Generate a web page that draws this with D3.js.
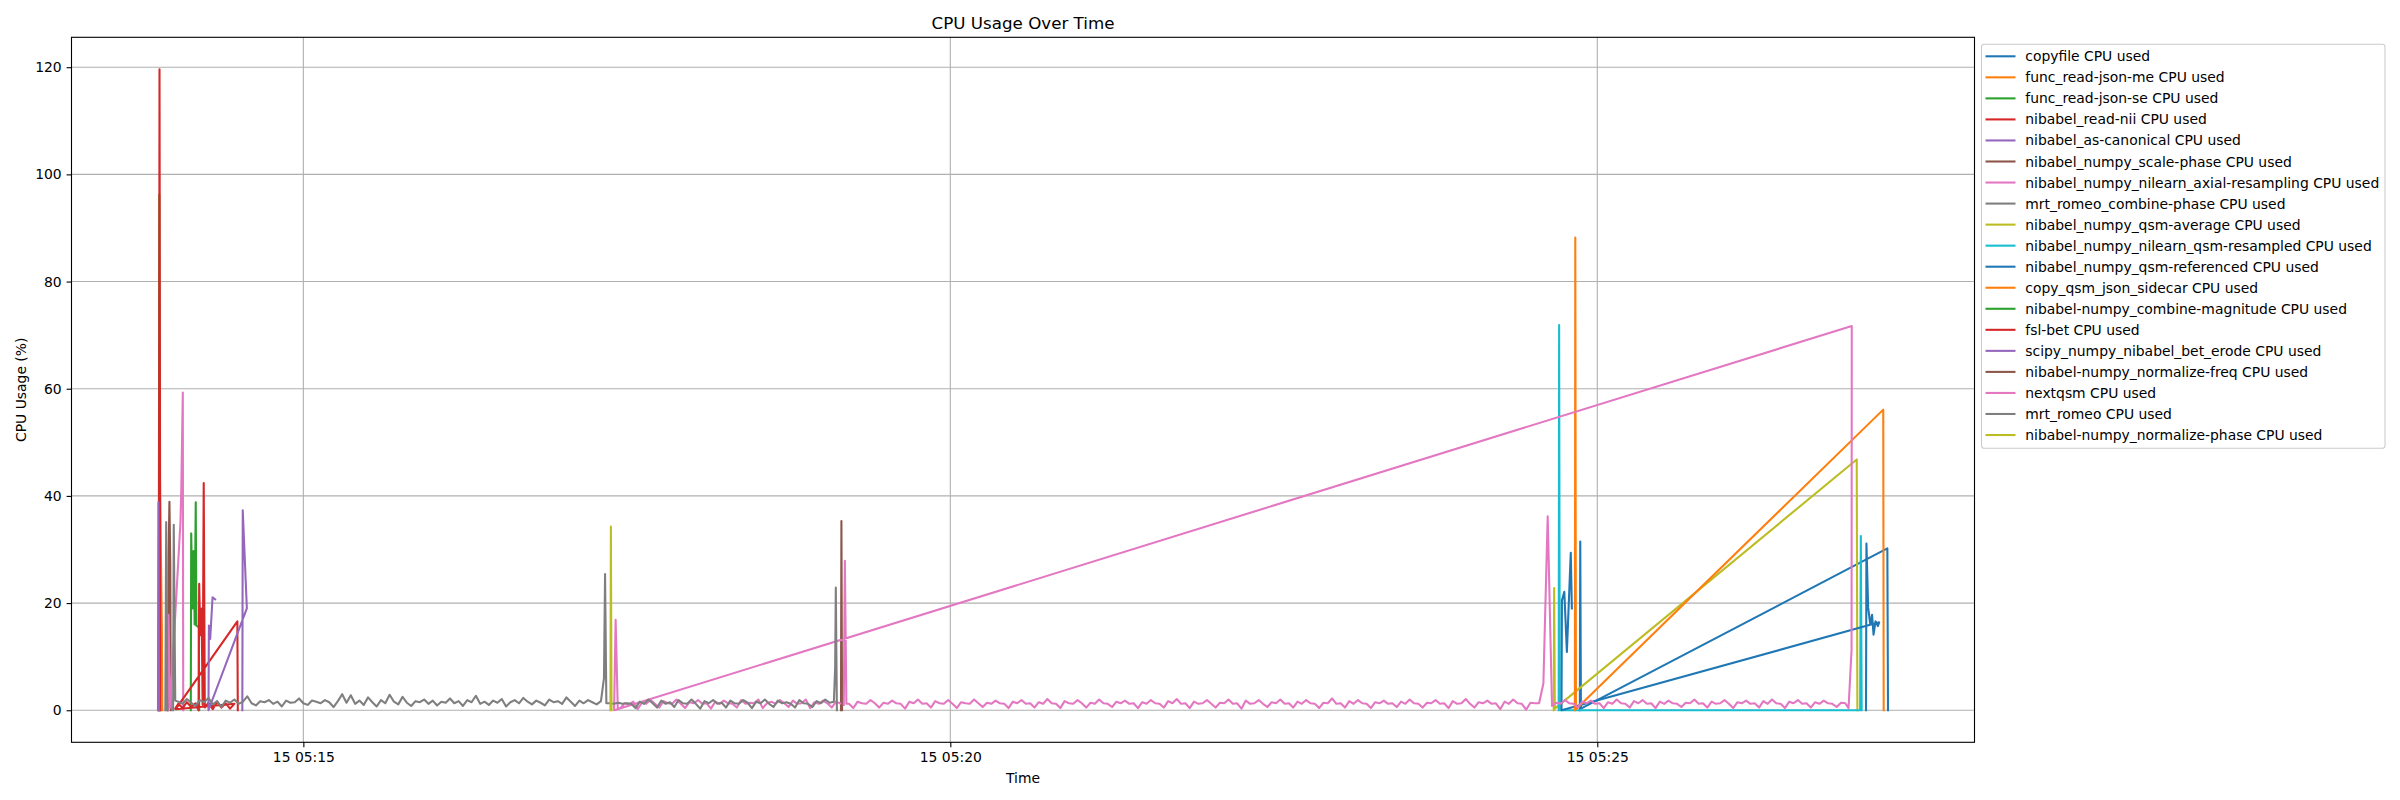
<!DOCTYPE html>
<html>
<head>
<meta charset="utf-8">
<script src="https://cdn.jsdelivr.net/npm/d3@7"></script>
<style>
  body { margin: 0; background: #fff; }
  svg { display: block; }
  text { font-family: "DejaVu Sans", sans-serif; fill: #000; }
</style>
</head>
<body>
<svg id="chart"></svg>
<script>
// ---- data (times are 15th, HH:MM:SS.s ; values are CPU %) ----
const seriesNames = [
  'copyfile CPU used',
  'func_read-json-me CPU used',
  'func_read-json-se CPU used',
  'nibabel_read-nii CPU used',
  'nibabel_as-canonical CPU used',
  'nibabel_numpy_scale-phase CPU used',
  'nibabel_numpy_nilearn_axial-resampling CPU used',
  'mrt_romeo_combine-phase CPU used',
  'nibabel_numpy_qsm-average CPU used',
  'nibabel_numpy_nilearn_qsm-resampled CPU used',
  'nibabel_numpy_qsm-referenced CPU used',
  'copy_qsm_json_sidecar CPU used',
  'nibabel-numpy_combine-magnitude CPU used',
  'fsl-bet CPU used',
  'scipy_numpy_nibabel_bet_erode CPU used',
  'nibabel-numpy_normalize-freq CPU used',
  'nextqsm CPU used',
  'mrt_romeo CPU used',
  'nibabel-numpy_normalize-phase CPU used'
];

const yTicks = [0, 20, 40, 60, 80, 100, 120];
const xTicks = ['05:15:00', '05:20:00', '05:25:00'];

const copyfile = [['05:24:51.9', 0], ['05:24:52.1', 31.5], ['05:24:52.4', 0.3], ['05:27:14.5', 30.2], ['05:27:14.8', 0]];
const funcReadJsonMe = [['05:13:53.2', 0], ['05:13:53.5', 43.4], ['05:13:54.4', 15.0], ['05:13:54.6', 0]];
const funcReadJsonSe = [['05:13:52.9', 0], ['05:13:53.2', 96.2], ['05:13:53.5', 0]];
const readNii = [['05:13:53.0', 0], ['05:13:53.3', 119.6], ['05:13:53.7', 0]];
const asCanonical = [['05:13:52.6', 0], ['05:13:52.8', 38.8], ['05:13:53.1', 0]];
const scalePhase = [['05:13:57.2', 0], ['05:13:57.5', 28.9], ['05:13:57.9', 38.9], ['05:13:58.3', 27.3], ['05:13:58.5', 0]];
const axialResampling = [['05:13:57.1', 0], ['05:13:57.4', 17.8], ['05:13:58.2', 0.5], ['05:14:03.0', 35.0],
  ['05:14:03.4', 41.2], ['05:14:04.1', 59.3], ['05:14:04.3', 0]];
const combinePhase = [['05:13:56.0', 0], ['05:13:56.4', 35.1], ['05:13:56.9', 0]];
const qsmAverage = [['05:24:39.8', 0], ['05:24:40.0', 22.8], ['05:24:40.3', 0.3], ['05:27:00.3', 46.8], ['05:27:00.6', 0]];
const qsmResampled = [['05:24:42.1', 0], ['05:24:42.3', 71.9], ['05:24:42.6', 0], ['05:27:01.9', 0], ['05:27:02.2', 32.5], ['05:27:02.6', 0]];
const qsmReferenced = [['05:27:04.6', 0], ['05:27:04.8', 31.1], ['05:27:05.6', 19.1], ['05:27:06.6', 16.0], ['05:27:07.4', 17.8],
  ['05:27:08.1', 14.1], ['05:27:09.0', 16.6], ['05:27:10.1', 15.7], ['05:27:10.7', 16.4],
  ['05:24:43.4', 0], ['05:24:43.6', 20.5], ['05:24:44.7', 22.1], ['05:24:45.9', 10.9], ['05:24:47.7', 29.4], ['05:24:48.2', 19.0]];
const copyQsmSidecar = [['05:24:49.6', 0], ['05:24:49.8', 88.2], ['05:24:50.1', 0.2], ['05:27:12.6', 56.1], ['05:27:12.8', 0]];
const combineMagnitude = [['05:14:07.8', 0], ['05:14:08.0', 33.0], ['05:14:08.6', 19.0], ['05:14:09.1', 29.7], ['05:14:09.6', 16.0],
  ['05:14:10.1', 38.8], ['05:14:10.4', 15.8], ['05:14:11.5', 15.5], ['05:14:11.7', 0]];
const fslBet = [['05:14:00.6', 0.3], ['05:14:02', 1.2], ['05:14:04', 0.4], ['05:14:06', 1.5], ['05:14:08', 0.6], ['05:14:10', 1.3],
  ['05:14:11.4', 0], ['05:14:11.7', 23.6], ['05:14:12.2', 14.0], ['05:14:12.8', 19.0], ['05:14:13.3', 1.0], ['05:14:13.8', 42.4],
  ['05:14:14.3', 0.5], ['05:14:16', 1.4], ['05:14:18', 0.2], ['05:14:20', 1.6], ['05:14:22', 0.5], ['05:14:24', 1.3],
  ['05:14:26', 0.3], ['05:14:28', 1.2], ['05:14:00.8', 0.2], ['05:14:29.4', 16.6], ['05:14:29.6', 0]];
const betErode = [['05:14:31.7', 0], ['05:14:31.9', 37.3], ['05:14:33.8', 19.0], ['05:14:16.0', 0], ['05:14:16.2', 15.8],
  ['05:14:16.8', 13.3], ['05:14:17.9', 21.1], ['05:14:19.1', 20.7]];
const normalizeFreq = [['05:19:09.3', 0], ['05:19:09.5', 35.3], ['05:19:09.8', 0]];
const normalizePhase = [['05:17:22.4', 0], ['05:17:22.6', 34.3], ['05:17:22.9', 0]];

// mrt_romeo: explicit points plus monitor samples taken every 2 s
const romeoHead = [['05:13:59.6', 0], ['05:13:59.9', 34.6], ['05:14:00.6', 1.8]];
const romeoSamplesA = [ // from 05:14:02
  1.6, 1.2, 2.1, 1.4, 0.8, 1.9, 1.5, 2.3, 1.1, 1.7, 0.6, 1.8, 1.4, 2.0, 1.2, 1.6, 2.6, 1.3, 0.9, 1.7,
  1.5, 1.9, 1.2, 1.6, 0.7, 1.8, 1.4, 1.5, 2.2, 1.3, 1.0, 1.8, 1.6, 1.3, 1.9, 1.5, 0.6, 1.7, 3.0, 1.4,
  2.8, 1.2, 1.8, 1.0, 2.4, 1.5, 0.7, 1.9, 1.3, 2.9, 1.6, 1.1, 2.5, 1.4, 0.8, 1.7, 1.5, 2.0, 1.2, 1.8,
  0.9, 1.6, 1.4, 2.2, 1.3, 1.7, 0.8, 1.9, 1.5, 2.7, 1.2, 1.6, 1.0, 1.8, 1.4, 2.1, 0.7, 1.5, 1.9, 1.3,
  2.3, 1.6, 1.1, 1.8, 1.4, 0.9, 2.0, 1.5, 1.7, 1.2, 2.4, 1.6, 0.8, 1.8, 1.3, 1.9, 1.5, 1.1, 1.7
];
const romeoMid = [['05:17:19.4', 6.0], ['05:17:19.9', 25.4], ['05:17:20.5', 1.3]];
const romeoSamplesB = [ // from 05:17:22
  1.3, 1.2, 1.4, 1.2, 1.3, 1.2, 0.4, 1.6, 1.2, 2.0, 1.3, 0.5, 1.8, 1.2, 1.5, 0.6, 1.9, 1.3, 1.2, 2.0,
  1.2, 0.3, 1.7, 1.3, 1.9, 1.2, 1.4, 0.5, 1.8, 1.3, 1.2, 1.9, 1.4, 0.4, 1.6, 1.3, 2.0, 1.2, 0.6, 1.8,
  1.3, 1.5, 1.2, 0.5, 1.9, 1.3, 1.2, 0.6, 1.7, 1.3, 2.0, 1.4, 1.6
];
const romeoTail = [['05:19:06.6', 8.0], ['05:19:06.9', 22.9], ['05:19:07.4', 0]];

// nextqsm: second run logged first, then first run
const nextqsmHeadB = [['05:19:10.6', 1.0], ['05:19:11.1', 27.9], ['05:19:11.8', 1.2]];
const nextqsmSamplesB = [ // from 05:19:13
  1.2, 0.4, 1.6, 1.3, 1.2, 1.9, 1.3, 0.5, 1.4, 1.2, 1.8, 1.3, 1.2, 0.3, 1.6, 1.3, 2.0, 1.2, 1.3, 0.5,
  1.7, 1.3, 1.2, 1.9, 1.2, 0.4, 1.5, 1.3, 1.2, 2.0, 1.3, 0.6, 1.4, 1.2, 1.8, 1.3, 1.2, 0.4, 1.6, 1.3,
  1.9, 1.2, 1.3, 0.5, 1.5, 1.2, 2.1, 1.3, 1.2, 0.4, 1.7, 1.3, 1.2, 1.9, 1.3, 0.5, 1.4, 1.2, 2.0, 1.3,
  1.2, 0.6, 1.6, 1.3, 1.8, 1.2, 1.3, 0.4, 1.5, 1.2, 1.9, 1.3, 1.2, 0.5, 1.7, 1.3, 2.1, 1.2, 1.3, 0.4,
  1.6, 1.2, 1.3, 1.9, 1.2, 0.5, 1.4, 1.3, 2.0, 1.2, 1.3, 0.3, 1.8, 1.2, 1.3, 1.9, 1.2, 0.6, 1.5, 1.3,
  2.0, 1.2, 1.3, 0.5, 1.6, 1.2, 1.9, 1.3, 1.2, 0.4, 1.4, 1.3, 2.2, 1.2, 1.3, 0.5, 1.7, 1.2, 1.9, 1.3,
  1.2, 0.4, 1.5, 1.3, 1.8, 1.2, 1.3, 0.6, 1.6, 1.2, 2.0, 1.3, 1.2, 0.5, 1.4, 1.3, 1.9, 1.2, 1.3, 0.4,
  1.7, 1.2, 1.3, 2.1, 1.2, 0.5, 1.5, 1.3, 1.8, 1.2, 1.3, 0.2, 1.6, 1.2, 2.0, 1.3, 1.2, 0.1, 1.4, 1.3,
  1.3, 5.0, 36.2, 0.8, 1.4, 1.2, 1.9, 1.3, 1.2, 0.5, 1.6, 1.3, 1.8, 1.2, 1.3, 0.4, 1.5, 1.2, 2.0, 1.3,
  1.2, 0.5, 1.7, 1.3, 1.9, 1.2, 1.3, 0.4, 1.6, 1.2, 1.8, 1.3, 1.2, 0.6, 1.4, 1.3, 2.0, 1.2, 1.3, 0.5,
  1.6, 1.2, 1.3, 1.9, 1.2, 0.4, 1.5, 1.3, 1.8, 1.2, 1.3, 0.5, 1.7, 1.2, 2.0, 1.3, 1.2, 0.4, 1.6, 1.3,
  1.9, 1.2, 1.3, 0.5, 1.5, 1.2, 1.8, 1.3, 1.2, 0.6, 1.4, 1.3
];
const nextqsmPeak = [['05:26:56.5', 0.4], ['05:26:57.9', 11.2], ['05:26:58.0', 71.7]];
const nextqsmHeadA = [['05:17:24.1', 0], ['05:17:24.8', 16.9], ['05:17:25.8', 0.3]];
const nextqsmSamplesA = [ // from 05:17:27
  0.4, 1.3, 1.1, 1.6, 0.2, 1.4, 1.2, 1.9, 1.2, 0.5, 1.7, 1.3, 1.2, 2.0, 1.2, 0.4, 1.5, 1.3, 1.9, 1.2,
  1.3, 0.3, 1.6, 1.2, 1.8, 1.3, 1.2, 0.5, 1.9, 1.2, 1.4, 1.3, 2.0, 0.4, 1.3, 1.6, 1.2, 1.9, 1.3, 0.6,
  1.8, 1.2, 1.3, 2.0, 0.4, 1.5, 1.2, 1.8, 1.3, 0.5, 1.6, 1.3
];

// ---- helpers ----
function parseT(s) {
  const [h, m, sec] = s.split(':').map(Number);
  return new Date(2024, 4, 15, h, m, 0, Math.round(sec * 1000));
}
const pts = arr => arr.map(([t, v]) => [parseT(t), v]);
const sampled = (start, values) => {
  const t0 = +parseT(start);
  return values.map((v, i) => [new Date(t0 + i * 2000), v]);
};

const mrtRomeo = [...pts(romeoHead), ...sampled('05:14:02', romeoSamplesA), ...pts(romeoMid),
  ...sampled('05:17:22', romeoSamplesB), ...pts(romeoTail)];
const nextqsm = [...pts(nextqsmHeadB), ...sampled('05:19:13', nextqsmSamplesB), ...pts(nextqsmPeak),
  ...pts(nextqsmHeadA), ...sampled('05:17:27', nextqsmSamplesA)];

const seriesPoints = [
  pts(copyfile), pts(funcReadJsonMe), pts(funcReadJsonSe), pts(readNii), pts(asCanonical),
  pts(scalePhase), pts(axialResampling), pts(combinePhase), pts(qsmAverage), pts(qsmResampled),
  pts(qsmReferenced), pts(copyQsmSidecar), pts(combineMagnitude), pts(fslBet), pts(betErode),
  pts(normalizeFreq), nextqsm, mrtRomeo, pts(normalizePhase)
];

// ---- chart ----
const width = 2400, height = 800;
const plotL = 71.5, plotR = 1974.5, plotT = 37.3, plotB = 742.3;
const fs = 13.9;

const svg = d3.select('#chart').attr('width', width).attr('height', height);

const color = d3.scaleOrdinal(d3.schemeCategory10);

const all = seriesPoints.flat();
const [tMin, tMax] = d3.extent(all, d => d[0]);
const pad = (tMax - tMin) * 0.05;
const x = d3.scaleTime()
  .domain([new Date(+tMin - pad), new Date(+tMax + pad)])
  .range([plotL, plotR]);
const vMax = d3.max(all, d => d[1]);
const y = d3.scaleLinear()
  .domain([-vMax * 0.05, vMax * 1.05])
  .range([plotB, plotT]);

// grid
const grid = svg.append('g').attr('stroke', '#b0b0b0').attr('stroke-width', 1.1);
grid.selectAll('.gy').data(yTicks).enter().append('line')
  .attr('x1', plotL).attr('x2', plotR)
  .attr('y1', d => y(d)).attr('y2', d => y(d));
grid.selectAll('.gx').data(xTicks.map(parseT)).enter().append('line')
  .attr('y1', plotT).attr('y2', plotB)
  .attr('x1', d => x(d)).attr('x2', d => x(d));

// lines
const line = d3.line().x(d => x(d[0])).y(d => y(d[1]));
svg.append('g').selectAll('path')
  .data(seriesPoints)
  .enter()
  .append('path')
  .attr('d', line)
  .attr('fill', 'none')
  .attr('stroke', (d, i) => color(i))
  .attr('stroke-width', 2.08)
  .attr('stroke-linejoin', 'round')
  .attr('stroke-linecap', 'square');

// frame
svg.append('rect')
  .attr('x', plotL).attr('y', plotT)
  .attr('width', plotR - plotL).attr('height', plotB - plotT)
  .attr('fill', 'none').attr('stroke', '#000').attr('stroke-width', 1.1);

// axes
const xAxis = svg.append('g')
  .attr('transform', `translate(0,${plotB})`)
  .call(d3.axisBottom(x).tickValues(xTicks.map(parseT))
    .tickFormat(d3.timeFormat('%d %H:%M')).tickSize(4.9).tickPadding(4.9));
const yAxis = svg.append('g')
  .attr('transform', `translate(${plotL},0)`)
  .call(d3.axisLeft(y).tickValues(yTicks).tickSize(4.9).tickPadding(4.9));
[xAxis, yAxis].forEach(g => {
  g.select('.domain').remove();
  g.attr('font-family', '"DejaVu Sans", sans-serif').attr('font-size', fs);
  g.selectAll('line').attr('stroke', '#000').attr('stroke-width', 1.1);
  g.selectAll('text').attr('fill', '#000');
});

// titles
svg.append('text')
  .attr('x', (plotL + plotR) / 2).attr('y', 29)
  .attr('text-anchor', 'middle')
  .style('font-size', '16.7px')
  .text('CPU Usage Over Time');
svg.append('text')
  .attr('x', (plotL + plotR) / 2).attr('y', 783)
  .attr('text-anchor', 'middle')
  .style('font-size', fs + 'px')
  .text('Time');
svg.append('text')
  .attr('transform', `translate(26,${(plotT + plotB) / 2}) rotate(-90)`)
  .attr('text-anchor', 'middle')
  .style('font-size', fs + 'px')
  .text('CPU Usage (%)');

// legend
const legend = svg.append('g');
legend.append('rect')
  .attr('x', 1981.5).attr('y', 44.3)
  .attr('width', 403.5).attr('height', 404)
  .attr('rx', 2.8)
  .attr('fill', '#fff').attr('fill-opacity', 0.8)
  .attr('stroke', '#cccccc').attr('stroke-width', 1.1);
const items = legend.selectAll('.item')
  .data(seriesNames)
  .enter()
  .append('g')
  .attr('class', 'item')
  .attr('transform', (d, i) => `translate(0,${56.3 + 21.04 * i})`);
items.append('line')
  .attr('x1', 1985.5).attr('x2', 2015.5)
  .attr('stroke', (d, i) => color(i))
  .attr('stroke-width', 2.08);
items.append('text')
  .attr('x', 2025.3).attr('y', 5)
  .style('font-size', fs + 'px')
  .text(d => d);
</script>
</body>
</html>
